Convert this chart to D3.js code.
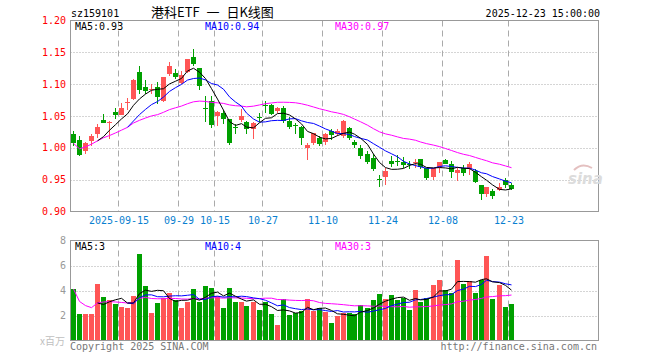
<!DOCTYPE html>
<html><head><meta charset="utf-8">
<script src="https://cdn.jsdelivr.net/npm/d3@7/dist/d3.min.js"></script>
<style>
html,body{margin:0;padding:0;background:#fff;}
svg{display:block;}
.mono{font-family:"DejaVu Sans Mono",monospace;font-size:10px;}
</style></head><body>
<svg id="c" width="660" height="360"></svg>
<script>
// ---- data ----
const dates = ["2025-09-03","2025-09-04","2025-09-05","2025-09-08","2025-09-09","2025-09-10","2025-09-11","2025-09-12",
"2025-09-15","2025-09-16","2025-09-17","2025-09-18","2025-09-19","2025-09-22","2025-09-23","2025-09-24","2025-09-25","2025-09-26",
"2025-09-29","2025-09-30","2025-10-09","2025-10-10","2025-10-13","2025-10-14","2025-10-15","2025-10-16","2025-10-17",
"2025-10-20","2025-10-21","2025-10-22","2025-10-23","2025-10-24","2025-10-27","2025-10-28","2025-10-29","2025-10-30","2025-10-31",
"2025-11-03","2025-11-04","2025-11-05","2025-11-06","2025-11-07","2025-11-10","2025-11-11","2025-11-12","2025-11-13","2025-11-14",
"2025-11-17","2025-11-18","2025-11-19","2025-11-20","2025-11-21","2025-11-24","2025-11-25","2025-11-26","2025-11-27","2025-11-28",
"2025-12-01","2025-12-02","2025-12-03","2025-12-04","2025-12-05","2025-12-08","2025-12-09","2025-12-10","2025-12-11","2025-12-12",
"2025-12-15","2025-12-16","2025-12-17","2025-12-18","2025-12-19","2025-12-22","2025-12-23"];
const open = [1.021,1.013,0.996,1.010,1.021,1.044,1.039,1.056,1.052,1.071,1.077,1.119,1.096,1.092,1.096,1.074,1.115,1.117,1.102,1.119,
1.143,1.125,1.062,1.074,1.050,1.054,1.045,1.032,1.043,1.041,1.030,1.048,1.067,1.068,1.059,1.063,1.042,1.036,1.033,1.000,
1.008,1.016,1.008,1.026,1.021,1.018,1.031,1.009,1.000,0.990,0.984,0.951,0.955,0.979,0.979,0.977,0.975,0.977,0.982,0.968,
0.954,0.968,0.981,0.975,0.961,0.969,0.966,0.963,0.941,0.927,0.932,0.935,0.949,0.942];
const high = [1.026,1.019,1.009,1.021,1.037,1.053,1.042,1.062,1.071,1.078,1.108,1.128,1.107,1.101,1.103,1.111,1.135,1.124,1.120,1.139,
1.155,1.125,1.081,1.081,1.058,1.059,1.046,1.037,1.061,1.042,1.040,1.054,1.073,1.069,1.064,1.065,1.049,1.039,1.034,1.008,
1.024,1.018,1.024,1.029,1.030,1.043,1.032,1.013,1.004,0.995,0.990,0.957,0.969,0.987,0.989,0.986,0.979,0.982,0.983,0.969,
0.968,0.978,0.983,0.979,0.969,0.973,0.977,0.966,0.942,0.938,0.935,0.945,0.952,0.945];
const low = [1.003,0.987,0.990,1.003,1.016,1.039,1.014,1.046,1.051,1.059,1.075,1.085,1.084,1.085,1.069,1.072,1.113,1.108,1.100,1.118,
1.129,1.091,1.040,1.031,1.034,1.037,1.004,1.022,1.041,1.022,1.014,1.040,1.055,1.051,1.054,1.039,1.029,1.022,1.005,0.981,
1.005,1.003,1.005,1.012,1.018,1.016,1.012,1.000,0.983,0.974,0.963,0.938,0.942,0.970,0.971,0.969,0.966,0.969,0.966,0.950,
0.950,0.960,0.974,0.953,0.948,0.955,0.958,0.945,0.918,0.922,0.920,0.932,0.937,0.933];
const close = [1.007,0.990,1.008,1.018,1.032,1.040,1.040,1.052,1.063,1.072,1.107,1.090,1.090,1.093,1.080,1.111,1.128,1.111,1.115,1.139,
1.132,1.097,1.061,1.036,1.057,1.045,1.007,1.031,1.050,1.030,1.039,1.047,1.066,1.054,1.063,1.042,1.033,1.035,1.015,1.004,
1.024,1.006,1.021,1.019,1.026,1.042,1.016,1.004,0.988,0.977,0.966,0.950,0.964,0.974,0.978,0.972,0.974,0.978,0.969,0.953,
0.968,0.977,0.975,0.962,0.965,0.961,0.974,0.946,0.927,0.938,0.924,0.939,0.941,0.936];
const volume = [4.12,2.13,2.13,2.13,4.52,3.48,3.24,2.93,2.71,2.61,3.56,6.91,4.36,2.21,3.03,3.40,3.80,3.22,2.61,3.09,
4.12,3.09,4.36,4.23,3.56,2.61,4.20,3.09,3.09,2.77,3.09,2.45,3.09,2.13,1.25,3.32,2.05,2.21,2.37,3.32,
2.37,2.61,2.31,1.41,1.97,2.18,2.23,2.10,2.85,2.61,3.24,3.72,3.32,3.64,3.24,3.43,2.45,4.04,3.09,3.40,
4.44,4.84,4.04,3.80,6.44,4.52,4.76,3.80,4.84,6.76,3.32,4.44,2.69,2.93];
const tickDates = ["2025-09-15","2025-09-29","2025-10-15","2025-10-27","2025-11-10","2025-11-24","2025-12-08","2025-12-23"];
const tickLabels = ["2025-09-15","09-29","10-15","10-27","11-10","11-24","12-08","12-23"];
const priceTicks = [0.90,0.95,1.00,1.05,1.10,1.15,1.20];
const volTicks = [2,4,6,8];
const priceLegend = ["MA5:0.93","MA10:0.94","MA30:0.97"];
const volLegend = ["MA5:3","MA10:4","MA30:3"];
const symbol = "sz159101";
const title = "港科ETF 一 日K线图";
const stamp = "2025-12-23 15:00:00";

// ---- helpers ----
function ma(arr, n, expanding){
  return arr.map((v,i)=>{
    if(i < n-1 && !expanding) return null;
    const s = arr.slice(Math.max(0,i-n+1), i+1);
    return d3.mean(s);
  });
}
const RED="#ff5555", GREEN="#00a000", GRID="#aaaaaa", BORDER="#999999";
const maColors=["#000000","#0000ff","#ff00ff"];

const svg = d3.select("#c");
const L=70.5, R=598.5, PT=20.5, PB=211.5, VT=240.5, VB=340.5;
const x = d3.scaleLinear().domain([0,88]).range([71,599]); // slot left edge
const cx = i => Math.floor(x(i)) + 2.5;
const y = d3.scaleLinear().domain([0.90,1.20]).range([PB,PT]);
const yv = d3.scaleLinear().domain([0,8]).range([VB,VT]);
const tickIdx = tickDates.map(d=>dates.indexOf(d));

// grid
const g = svg.append("g");
g.selectAll(".hg").data(priceTicks.slice(1,-1)).join("line")
 .attr("x1",L).attr("x2",R).attr("y1",d=>Math.round(y(d))+0.5).attr("y2",d=>Math.round(y(d))+0.5)
 .attr("stroke",GRID).attr("stroke-dasharray","1,2");
g.selectAll(".hv").data(volTicks.slice(0,-1)).join("line")
 .attr("x1",L).attr("x2",R).attr("y1",d=>Math.round(yv(d))+0.5).attr("y2",d=>Math.round(yv(d))+0.5)
 .attr("stroke",GRID).attr("stroke-dasharray","1,2");
[[PT,PB],[VT,VB]].forEach(([t,b])=>{
  g.append("g").selectAll("line").data(tickIdx).join("line")
   .attr("x1",d=>Math.floor(x(d))-0.5).attr("x2",d=>Math.floor(x(d))-0.5)
   .attr("y1",t).attr("y2",b).attr("stroke",GRID).attr("stroke-dasharray","6,4");
});

// candles
const cg = svg.append("g").attr("shape-rendering","crispEdges");
const idx = d3.range(dates.length);
const col = i => close[i] >= open[i] ? RED : GREEN;
cg.selectAll(".w").data(idx).join("line")
 .attr("x1",i=>cx(i)).attr("x2",i=>cx(i))
 .attr("y1",i=>y(high[i])).attr("y2",i=>y(low[i])).attr("stroke",col);
cg.selectAll(".b").data(idx).join("rect")
 .attr("x",i=>Math.floor(x(i))).attr("width",5)
 .attr("y",i=>Math.round(y(Math.max(open[i],close[i]))))
 .attr("height",i=>Math.max(1,Math.round(Math.abs(y(open[i])-y(close[i])))))
 .attr("fill",col);

// volume bars
cg.selectAll(".v").data(idx).join("rect")
 .attr("x",i=>Math.floor(x(i))).attr("width",5)
 .attr("y",i=>Math.round(yv(volume[i]))).attr("height",i=>Math.round(VB-yv(volume[i])))
 .attr("fill",col);

// MA lines
const pMA=[ma(close,5,false),ma(close,10,false),ma(close,30,true)];
const vMA=[ma(volume,5,false),ma(volume,10,false),ma(volume,30,true)];
[2,1,0].forEach(k=>{
  svg.append("path").datum(pMA[k]).attr("fill","none").attr("stroke",maColors[k]).attr("stroke-width",1)
   .attr("d",d3.line().defined(d=>d!=null).x((d,i)=>cx(i)).y(d=>y(d)));
  svg.append("path").datum(vMA[k]).attr("fill","none").attr("stroke",maColors[k]).attr("stroke-width",1)
   .attr("d",d3.line().defined(d=>d!=null).x((d,i)=>cx(i)).y(d=>yv(d)));
});

// borders
svg.append("rect").attr("x",L).attr("y",PT).attr("width",R-L).attr("height",PB-PT).attr("fill","none").attr("stroke",BORDER);
svg.append("rect").attr("x",L).attr("y",VT).attr("width",R-L).attr("height",VB-VT).attr("fill","none").attr("stroke",BORDER);

// axis labels
svg.append("g").selectAll("text").data(priceTicks).join("text").attr("class","mono")
 .attr("x",66).attr("y",d=>y(d)+3.5).attr("text-anchor","end").attr("fill","#ff0000").text(d=>d.toFixed(2));
svg.append("g").selectAll("text").data(volTicks).join("text").attr("class","mono")
 .attr("x",66).attr("y",d=>yv(d)+3.5).attr("text-anchor","end").attr("fill","#999999").text(d=>d);
svg.append("g").selectAll("text").data(tickIdx).join("text").attr("class","mono")
 .attr("x",d=>Math.floor(x(d))).attr("y",224).attr("text-anchor","middle").attr("fill","#0a7fd0")
 .text((d,i)=>tickLabels[i]);

// legends
const lx=[75,205,335];
priceLegend.forEach((t,k)=>svg.append("text").attr("class","mono").attr("x",lx[k]).attr("y",30).attr("fill",maColors[k]).text(t));
volLegend.forEach((t,k)=>svg.append("text").attr("class","mono").attr("x",lx[k]).attr("y",250).attr("fill",maColors[k]).text(t));

// header
svg.append("text").attr("class","mono").attr("x",71).attr("y",17).attr("fill","#000").text(symbol);
svg.append("text").attr("x",151).attr("y",17).attr("fill","#000")
 .style("font-family","'Noto Sans CJK SC',sans-serif").style("font-size","13px")
 .style("white-space","pre").style("word-spacing","4px").text(title);
svg.append("text").attr("class","mono").attr("x",600).attr("y",17).attr("text-anchor","end").attr("fill","#000").text(stamp);

// footer
svg.append("text").attr("x",65).attr("y",345).attr("text-anchor","end").attr("fill","#c0c0c0")
 .style("font-family","'Noto Sans CJK SC',sans-serif").style("font-size","10px").text("x百万");
svg.append("text").attr("class","mono").attr("x",70).attr("y",350).attr("fill","#777").text("Copyright 2025 SINA.COM");
svg.append("text").attr("class","mono").attr("x",597).attr("y",350).attr("text-anchor","end").attr("fill","#777").text("http://finance.sina.com.cn");

// watermark
svg.append("text").attr("x",568).attr("y",184).attr("fill","#dcdcdc")
 .style("font-family","'DejaVu Sans',sans-serif").style("font-size","15px").style("font-style","italic").style("font-weight","bold").text("sina");
svg.append("path").attr("d","M574,170 q8,-8 18,-2").attr("fill","none").attr("stroke","#e4c0c0").attr("stroke-width",2);
</script>
</body></html>
